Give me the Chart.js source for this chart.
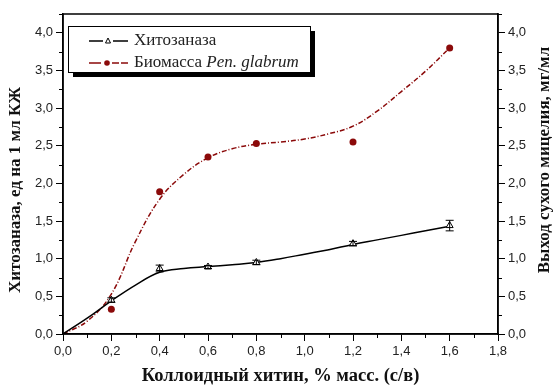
<!DOCTYPE html>
<html>
<head>
<meta charset="utf-8">
<script src="https://cdn.jsdelivr.net/npm/chart.js@4.4.1/dist/chart.umd.min.js"></script>
<style>
html, body { margin: 0; padding: 0; background: #fff; }
#wrap { width: 553px; height: 386px; }
</style>
</head>
<body>
<div id="wrap"><canvas id="grafico"></canvas></div>
<script>
// puntos medidos
var concX = [0.2, 0.4, 0.6, 0.8, 1.2, 1.6];
var hitozanaza = [0.45, 0.87, 0.89, 0.95, 1.20, 1.44];
var hitozanazaErr = [0.03, 0.045, 0.02, 0.03, 0.03, 0.07];
var biomasa = [0.33, 1.89, 2.35, 2.53, 2.55, 3.80];

// curvas de ajuste
var ajusteX = [0, 0.1, 0.2, 0.3, 0.4, 0.5, 0.6, 0.7, 0.8, 0.9, 1.0, 1.1, 1.2, 1.3, 1.4, 1.5, 1.6];
var ajusteHito = [0, 0.21, 0.44, 0.65, 0.82, 0.87, 0.895, 0.92, 0.95, 1.0, 1.06, 1.12, 1.19, 1.25, 1.31, 1.37, 1.43];
var ajusteBio = [0, 0.17, 0.53, 1.23, 1.79, 2.12, 2.34, 2.46, 2.52, 2.55, 2.59, 2.66, 2.76, 2.96, 3.22, 3.49, 3.80];

var ticksX = [0, 0.2, 0.4, 0.6, 0.8, 1.0, 1.2, 1.4, 1.6, 1.8];
var ticksY = [0, 0.5, 1.0, 1.5, 2.0, 2.5, 3.0, 3.5, 4.0];
var menoresX = [0.1, 0.3, 0.5, 0.7, 0.9, 1.1, 1.3, 1.5, 1.7];
var menoresY = [0.25, 0.75, 1.25, 1.75, 2.25, 2.75, 3.25, 3.75, 4.25];

var nombre1 = 'Хитозаназа';
var nombre2a = 'Биомасса ';
var nombre2b = 'Pen. glabrum';
var tituloX = 'Коллоидный хитин, % масс. (с/в)';
var tituloY1 = 'Хитозаназа, ед на 1 мл КЖ';
var tituloY2 = 'Выход сухого мицелия, мг/мл';

var rojo = '#8b0a0a';

function pares(xs, ys) {
    return xs.map(function (x, i) { return { x: x, y: ys[i] }; });
}
function coma(v) {
    return v.toFixed(1).replace('.', ',');
}

var ejeFuente = { family: 'Liberation Sans', size: 13 };

// barras de error, marcas menores, marco, titulos y leyenda
var extras = {
    id: 'extras',
    afterDatasetsDraw: function (chart) {
        var ctx = chart.ctx;
        var meta = chart.getDatasetMeta(0);
        var y = chart.scales.y;
        ctx.save();
        ctx.strokeStyle = '#000';
        ctx.lineWidth = 1;
        meta.data.forEach(function (p, i) {
            var v = hitozanaza[i], e = hitozanazaErr[i];
            var y1 = y.getPixelForValue(v + e), y2 = y.getPixelForValue(v - e);
            ctx.beginPath();
            ctx.moveTo(p.x, y1); ctx.lineTo(p.x, y2);
            ctx.moveTo(p.x - 4, y1); ctx.lineTo(p.x + 4, y1);
            ctx.moveTo(p.x - 4, y2); ctx.lineTo(p.x + 4, y2);
            ctx.stroke();
        });
        ctx.restore();
    },
    afterDraw: function (chart) {
        var ctx = chart.ctx;
        var a = chart.chartArea;
        var sx = chart.scales.x, sy = chart.scales.y;
        var medioY = (a.top + a.bottom) / 2;
        ctx.save();
        ctx.strokeStyle = '#000';
        ctx.lineWidth = 1.5;
        ctx.strokeRect(a.left, a.top, a.right - a.left, a.bottom - a.top);

        ctx.lineWidth = 1;
        ctx.beginPath();
        menoresX.forEach(function (v) {
            var px = Math.round(sx.getPixelForValue(v)) + 0.5;
            ctx.moveTo(px, a.bottom); ctx.lineTo(px, a.bottom + 4);
        });
        menoresY.forEach(function (v) {
            var py = Math.round(sy.getPixelForValue(v)) + 0.5;
            ctx.moveTo(a.left - 4, py); ctx.lineTo(a.left, py);
            ctx.moveTo(a.right, py); ctx.lineTo(a.right + 4, py);
        });
        ctx.stroke();

        // titulos de ejes
        ctx.fillStyle = '#111';
        ctx.textAlign = 'center';
        ctx.textBaseline = 'middle';
        ctx.font = 'bold 18.5px "Liberation Serif"';
        ctx.fillText(tituloX, (a.left + a.right) / 2, 376);
        ctx.font = 'bold 17px "Liberation Serif"';
        ctx.save();
        ctx.translate(16, medioY + 16);
        ctx.rotate(-Math.PI / 2);
        ctx.fillText(tituloY1, 0, 0);
        ctx.restore();
        ctx.save();
        ctx.translate(545, medioY - 14);
        ctx.rotate(-Math.PI / 2);
        ctx.fillText(tituloY2, 0, 0);
        ctx.restore();

        // leyenda
        var lx = a.left + 5, ly = a.top + 12, lw = 242, lh = 46;
        ctx.fillStyle = '#000';
        ctx.fillRect(lx + 5, ly + 5, lw, lh);
        ctx.fillStyle = '#fff';
        ctx.fillRect(lx, ly, lw, lh);
        ctx.lineWidth = 1;
        ctx.strokeRect(lx + 0.5, ly + 0.5, lw, lh);

        var f1 = ly + 15, f2 = ly + 37;
        ctx.lineWidth = 1.5;
        ctx.strokeStyle = '#000';
        ctx.beginPath();
        ctx.moveTo(lx + 21, f1); ctx.lineTo(lx + 35, f1);
        ctx.moveTo(lx + 45, f1); ctx.lineTo(lx + 60, f1);
        ctx.stroke();
        ctx.lineWidth = 1;
        ctx.beginPath();
        ctx.moveTo(lx + 40, f1 - 3); ctx.lineTo(lx + 42.5, f1 + 2); ctx.lineTo(lx + 37.5, f1 + 2);
        ctx.closePath();
        ctx.stroke();

        ctx.strokeStyle = rojo;
        ctx.lineWidth = 1.5;
        ctx.beginPath();
        ctx.moveTo(lx + 21, f2); ctx.lineTo(lx + 33, f2);
        ctx.moveTo(lx + 44, f2); ctx.lineTo(lx + 51, f2);
        ctx.moveTo(lx + 53, f2); ctx.lineTo(lx + 60, f2);
        ctx.stroke();
        ctx.fillStyle = rojo;
        ctx.beginPath();
        ctx.arc(lx + 39, f2, 2.8, 0, Math.PI * 2);
        ctx.fill();

        ctx.fillStyle = '#222';
        ctx.textAlign = 'left';
        ctx.font = '17px "Liberation Serif"';
        ctx.fillText(nombre1, lx + 66, f1);
        ctx.fillText(nombre2a, lx + 66, f2);
        var w = ctx.measureText(nombre2a).width;
        ctx.font = 'italic 17px "Liberation Serif"';
        ctx.fillText(nombre2b, lx + 66 + w, f2);
        ctx.restore();
    }
};

var grafico = new Chart(document.getElementById('grafico').getContext('2d'), {
    type: 'scatter',
    data: {
        datasets: [{
            label: nombre1,
            data: pares(concX, hitozanaza),
            pointStyle: 'triangle',
            pointRadius: 4,
            backgroundColor: '#fff',
            borderColor: '#000',
            borderWidth: 1,
            showLine: false,
            yAxisID: 'y'
        }, {
            label: nombre2a + nombre2b,
            data: pares(concX, biomasa),
            pointStyle: 'circle',
            pointRadius: 3.5,
            backgroundColor: rojo,
            borderColor: rojo,
            borderWidth: 0,
            showLine: false,
            yAxisID: 'y2'
        }, {
            label: 'ajuste1',
            data: pares(ajusteX, ajusteHito),
            showLine: true,
            pointRadius: 0,
            borderColor: '#000',
            borderWidth: 1.5,
            tension: 0.4,
            yAxisID: 'y'
        }, {
            label: 'ajuste2',
            data: pares(ajusteX, ajusteBio),
            showLine: true,
            pointRadius: 0,
            borderColor: rojo,
            borderWidth: 1.5,
            borderDash: [5, 2, 1, 2],
            tension: 0.4,
            yAxisID: 'y2'
        }]
    },
    options: {
        responsive: true,
        maintainAspectRatio: false,
        animation: false,
        layout: { padding: { top: 14, left: 0, right: 0, bottom: 0 } },
        plugins: {
            legend: { display: false },
            tooltip: { enabled: false }
        },
        scales: {
            x: {
                type: 'linear',
                min: 0,
                max: 1.8,
                afterFit: function (s) { s.height = 52; },
                afterBuildTicks: function (s) { s.ticks = ticksX.map(function (v) { return { value: v }; }); },
                ticks: {
                    font: ejeFuente,
                    color: '#222',
                    padding: 3,
                    maxRotation: 0,
                    callback: function (v) { return coma(v); }
                },
                grid: { drawOnChartArea: false, tickLength: 7, color: '#000', tickWidth: 1 },
                border: { display: true, color: '#000', width: 1.5 }
            },
            y: {
                position: 'left',
                min: 0,
                max: 4.25,
                afterFit: function (s) { s.width = 63; },
                afterBuildTicks: function (s) { s.ticks = ticksY.map(function (v) { return { value: v }; }); },
                ticks: {
                    font: ejeFuente,
                    color: '#222',
                    padding: 3,
                    callback: function (v) { return coma(v); }
                },
                grid: { drawOnChartArea: false, tickLength: 7, color: '#000', tickWidth: 1 },
                border: { display: true, color: '#000', width: 1.5 }
            },
            y2: {
                position: 'right',
                min: 0,
                max: 4.25,
                afterFit: function (s) { s.width = 55; },
                afterBuildTicks: function (s) { s.ticks = ticksY.map(function (v) { return { value: v }; }); },
                ticks: {
                    font: ejeFuente,
                    color: '#222',
                    padding: 3,
                    callback: function (v) { return coma(v); }
                },
                grid: { drawOnChartArea: false, tickLength: 7, color: '#000', tickWidth: 1 },
                border: { display: true, color: '#000', width: 1.5 }
            }
        }
    },
    plugins: [extras]
});
</script>
</body>
</html>
